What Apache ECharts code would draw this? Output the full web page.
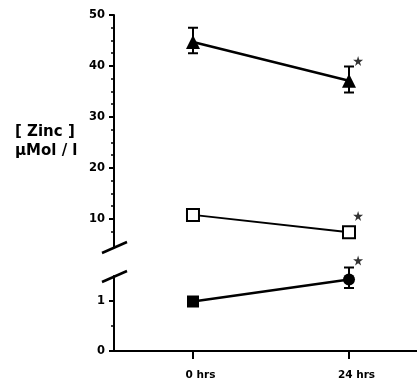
<!DOCTYPE html>
<html>
<head>
<meta charset="utf-8">
<script src="https://cdn.jsdelivr.net/npm/echarts@6/dist/echarts.min.js"></script>
<style>
  html, body { margin: 0; padding: 0; background: #fff; }
  #chart { width: 417px; height: 381px; }
</style>
</head>
<body>
<div id="chart"></div>
<script>
// time points (hours)
var hours = [0, 24];

// upper panel (µMol/l, 10 - 50)
var triangleVals = [44.7, 37.1];
var triangleErr = [[42.5, 47.5], [34.8, 39.9]];
var openSquareVals = [10.8, 7.4];

// lower panel (0 - 1.5)
var filledVals = [0.99, 1.43];
var filledErr = [[0.92, 1.06], [1.26, 1.67]];
var filledSymbols = ['rect', 'circle'];

// significance stars: [hour, value]
var upperStars = [[25.4, 41.0], [25.4, 10.6]];
var lowerStars = [[25.4, 1.81]];

// axis ticks
var upperMajor = [10, 20, 30, 40, 50];
var upperMinor = [7.5, 12.5, 15, 17.5, 22.5, 25, 27.5, 32.5, 35, 37.5, 42.5, 45, 47.5];
var lowerMajor = [0, 1];
var lowerMinor = [0.5];
var hourTicks = [0, 24];

var upperMin = 4.5, upperMax = 50;
var lowerMin = 0, lowerMax = 1.5;
var xMin = -12.15, xMax = 34.46;

var starPath = 'path://M50,0 L61,35 L98,35 L68,57 L79,91 L50,70 L21,91 L32,57 L2,35 L39,35 Z';
var labelFont = { color: '#000', fontWeight: 'bold', fontFamily: 'DejaVu Sans', fontSize: 11.5 };

function errRenderer(errs) {
	return function(params, api) {
		var i = params.dataIndex;
		var lo = api.coord([hours[i], errs[i][0]]);
		var hi = api.coord([hours[i], errs[i][1]]);
		var w = 5;
		var style = { stroke: '#000', lineWidth: 2 };
		return {
			type: 'group',
			children: [
				{ type: 'line', shape: { x1: lo[0], y1: lo[1], x2: hi[0], y2: hi[1] }, style: style },
				{ type: 'line', shape: { x1: lo[0] - w, y1: lo[1], x2: lo[0] + w, y2: lo[1] }, style: style },
				{ type: 'line', shape: { x1: hi[0] - w, y1: hi[1], x2: hi[0] + w, y2: hi[1] }, style: style }
			]
		};
	};
}

function pairs(vals) {
	return hours.map(function(h, i) { return [h, vals[i]]; });
}

var chart = echarts.init(document.getElementById('chart'));

var axisLine = { show: true, onZero: false, lineStyle: { color: '#000', width: 2 } };
var noLine = { show: false, onZero: false };

var option = {
	animation: false,
	backgroundColor: '#fff',
	grid: [
		{ left: 114, top: 15, width: 303, height: 232 },
		{ left: 114, top: 276, width: 303, height: 76 }
	],
	xAxis: [
		{ type: 'value', gridIndex: 0, min: xMin, max: xMax, show: false },
		{
			type: 'value', gridIndex: 1, min: xMin, max: xMax,
			axisLine: axisLine,
			splitLine: { show: false },
			axisTick: { show: true, customValues: hourTicks, length: 8, lineStyle: { color: '#000', width: 2 } },
			axisLabel: Object.assign({
				customValues: hourTicks, margin: 19, padding: [0, 0, 0, 15],
				formatter: function(v) { return v + ' hrs'; }
			}, labelFont, { fontSize: 10.5 })
		}
	],
	yAxis: [
		{
			type: 'value', gridIndex: 0, min: upperMin, max: upperMax, position: 'left',
			axisLine: axisLine,
			splitLine: { show: false },
			axisTick: { show: true, customValues: upperMajor, length: 5, lineStyle: { color: '#000', width: 2 } },
			axisLabel: Object.assign({ customValues: upperMajor, margin: 9 }, labelFont)
		},
		{
			type: 'value', gridIndex: 0, min: upperMin, max: upperMax, position: 'left',
			axisLine: noLine,
			splitLine: { show: false },
			axisTick: { show: true, customValues: upperMinor, length: 3, lineStyle: { color: '#000', width: 1.5 } },
			axisLabel: { show: false }
		},
		{
			type: 'value', gridIndex: 1, min: lowerMin, max: lowerMax, position: 'left',
			axisLine: axisLine,
			splitLine: { show: false },
			axisTick: { show: true, customValues: lowerMajor, length: 5, lineStyle: { color: '#000', width: 2 } },
			axisLabel: Object.assign({ customValues: lowerMajor, margin: 9 }, labelFont)
		},
		{
			type: 'value', gridIndex: 1, min: lowerMin, max: lowerMax, position: 'left',
			axisLine: noLine,
			splitLine: { show: false },
			axisTick: { show: true, customValues: lowerMinor, length: 3, lineStyle: { color: '#000', width: 1.5 } },
			axisLabel: { show: false }
		}
	],
	series: [
		{
			type: 'custom', xAxisIndex: 0, yAxisIndex: 0,
			renderItem: errRenderer(triangleErr),
			data: pairs(triangleVals), z: 1
		},
		{
			type: 'line', xAxisIndex: 0, yAxisIndex: 0,
			data: pairs(triangleVals),
			symbol: 'triangle', symbolSize: 14,
			itemStyle: { color: '#000' },
			lineStyle: { color: '#000', width: 2.5 }, z: 2
		},
		{
			type: 'line', xAxisIndex: 0, yAxisIndex: 0,
			data: pairs(openSquareVals),
			symbol: 'rect', symbolSize: 12, showAllSymbol: true,
			itemStyle: { color: '#fff', borderColor: '#000', borderWidth: 2 },
			lineStyle: { color: '#000', width: 2 }, z: 2
		},
		{
			type: 'scatter', xAxisIndex: 0, yAxisIndex: 0,
			data: upperStars, symbol: starPath, symbolSize: 10,
			itemStyle: { color: '#000' }, clip: false
		},
		{
			type: 'custom', xAxisIndex: 1, yAxisIndex: 2,
			renderItem: errRenderer(filledErr),
			data: pairs(filledVals), clip: false, z: 1
		},
		{
			type: 'line', xAxisIndex: 1, yAxisIndex: 2,
			data: hours.map(function(h, i) {
				return { value: [h, filledVals[i]], symbol: filledSymbols[i] };
			}),
			symbolSize: 12,
			itemStyle: { color: '#000' },
			lineStyle: { color: '#000', width: 2.5 }, z: 2
		},
		{
			type: 'scatter', xAxisIndex: 1, yAxisIndex: 2,
			data: lowerStars, symbol: starPath, symbolSize: 10,
			itemStyle: { color: '#000' }, clip: false
		}
	]
};

chart.setOption(option);

// y-axis title and break marks at the ends of the two y-axis segments
var ax = chart.convertToPixel({ xAxisIndex: 0 }, xMin);
var yUp = chart.convertToPixel({ yAxisIndex: 0 }, upperMin);
var yLo = chart.convertToPixel({ yAxisIndex: 2 }, lowerMax);
var breakStyle = { stroke: '#000', lineWidth: 2.5 };
chart.setOption({
	graphic: [
		{
			id: 'ytitle', type: 'text', left: 15, top: 123,
			style: {
				text: '[ Zinc ]\nµMol / l',
				fill: '#000', font: 'bold 15px "DejaVu Sans"', lineHeight: 19
			}
		},
		{ id: 'brk1', type: 'line', shape: { x1: ax - 12, y1: yUp + 6, x2: ax + 13, y2: yUp - 5 }, style: breakStyle },
		{ id: 'brk2', type: 'line', shape: { x1: ax - 12, y1: yLo + 6, x2: ax + 13, y2: yLo - 5 }, style: breakStyle }
	]
});
</script>
</body>
</html>
